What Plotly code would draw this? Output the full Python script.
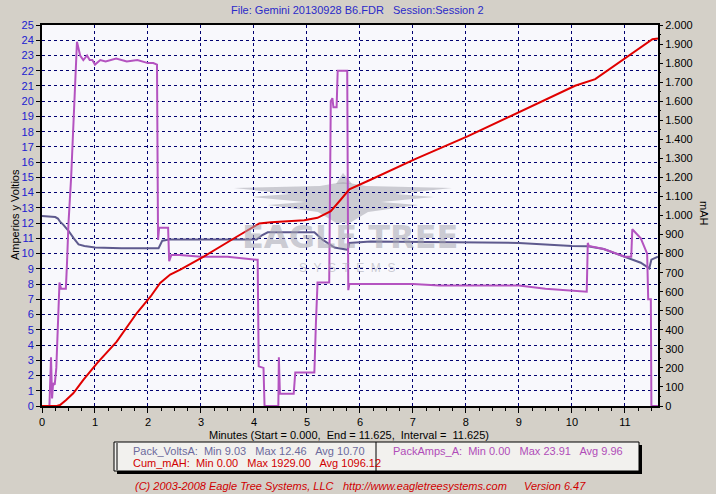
import plotly.graph_objects as go

# ---------------- data ----------------
amps_t = [0, 0.14, 0.17, 0.19, 0.21, 0.24, 0.27, 0.30, 0.33, 0.36, 0.45, 0.47, 0.50, 0.55, 0.60,
          0.66, 0.72, 0.78, 0.85, 0.90, 0.95, 1.00, 1.10, 1.20, 1.40, 1.60, 1.80, 2.00, 2.10,
          2.17, 2.19, 2.21, 2.38, 2.40, 2.44, 2.60, 3.00, 3.50, 4.05, 4.07, 4.09, 4.18, 4.20,
          4.46, 4.47, 4.49, 4.52, 4.75, 4.78, 4.82, 5.14, 5.17, 5.20, 5.25, 5.42, 5.45, 5.48,
          5.50, 5.56, 5.58, 5.76, 5.78, 5.80, 6.00, 6.50, 7.00, 7.50, 8.00, 8.50, 9.00, 9.50,
          10.00, 10.28, 10.30, 10.32, 10.60, 11.00, 11.12, 11.14, 11.30, 11.42, 11.44, 11.49,
          11.50, 11.625]
amps_v = [0, 0, 3.2, 0.5, 1.5, 1.4, 2.5, 5.0, 8.1, 7.7, 7.7, 9.2, 12.0, 15.0, 19.0,
          23.9, 23.0, 22.7, 23.0, 22.7, 22.7, 22.4, 22.7, 22.6, 22.8, 22.6, 22.7, 22.5, 22.5,
          22.4, 10.9, 11.7, 11.7, 9.5, 9.9, 9.9, 9.8, 9.8, 9.6, 9.6, 2.6, 2.5, 0,
          0, 3.2, 0.8, 0.8, 0.8, 2.2, 2.2, 2.2, 5.5, 8.1, 8.1, 8.1, 20.0, 20.2,
          19.6, 19.6, 22.0, 22.0, 7.6, 8.0, 8.0, 8.0, 8.0, 7.9, 7.9, 7.9, 7.9, 7.7,
          7.6, 7.5, 10.7, 10.5, 10.3, 9.8, 9.8, 11.6, 11.0, 10.0, 7.0, 7.0,
          0, 0]

volts_t = [0, 0.25, 0.30, 0.34, 0.40, 0.50, 0.60, 0.69, 0.80, 1.00, 1.50, 2.00, 2.20, 2.27,
           2.40, 3.00, 4.05, 4.15, 4.26, 5.00, 5.14, 5.30, 5.52, 5.77, 5.80, 6.20, 7.00, 8.00,
           9.00, 10.00, 10.30, 10.60, 11.00, 11.30, 11.46, 11.50, 11.625]
volts_v = [12.46, 12.4, 12.3, 12.1, 11.9, 11.5, 11.0, 10.6, 10.5, 10.4, 10.35, 10.35, 10.35, 10.85,
           10.92, 10.92, 10.92, 11.2, 11.4, 11.4, 11.4, 10.9, 10.4, 10.25, 10.7, 10.8, 10.78, 10.75,
           10.7, 10.5, 10.48, 10.3, 9.8, 9.4, 9.03, 9.6, 9.8]

mah_t = [0, 0.28, 0.34, 0.45, 0.59, 0.78, 1.04, 1.41, 1.79, 2.05, 2.23, 2.42, 2.61, 3.06, 3.69,
         4.10, 4.32, 4.95, 5.20, 5.45, 5.64, 5.80, 6.21, 7.03, 8.04, 9.05, 9.81, 10.06, 10.44,
         11.07, 11.52, 11.625]
mah_v = [0, 0, 5, 30, 67, 137, 225, 338, 488, 575, 646, 690, 716, 786, 891,
         958, 965, 975, 988, 1023, 1084, 1137, 1189, 1295, 1417, 1549, 1646, 1681, 1716,
         1839, 1925, 1929]

x_ticks = list(range(0, 12))
left_ticks = list(range(0, 26))
right_ticks = list(range(0, 2001, 100))
right_labels = [(str(v) if v < 1000 else "{:.3f}".format(v / 1000)) for v in right_ticks]

title_text = "File: Gemini 20130928 B6.FDR   Session:Session 2"
xaxis_text = "Minutes (Start = 0.000,  End = 11.625,  Interval =  11.625)"
volts_stats = "Pack_VoltsA:  Min 9.03   Max 12.46   Avg 10.70"
mah_stats = "Cum_mAH:  Min 0.00   Max 1929.00   Avg 1096.12"
amps_stats = "PackAmps_A:  Min 0.00   Max 23.91   Avg 9.96"

# ---------------- layout geometry ----------------
W, H = 716, 494
L, R, T, B = 42, 658, 25, 406


def px(x):
    return (x - L) / (R - L)


def py(y):
    return (B - y) / (B - T)


def path(points):
    s = "M " + " L ".join("{:.5f},{:.5f}".format(px(a), py(b)) for a, b in points) + " Z"
    return s


FONT = "Liberation Sans, Arial, sans-serif"
AMPS_C = "#b453c0"
VOLTS_C = "#5e5a8e"
MAH_C = "#e00000"
WM = "rgba(165,165,175,0.55)"

fig = go.Figure()
fig.add_trace(go.Scatter(x=volts_t, y=volts_v, mode="lines", line=dict(color=VOLTS_C, width=2),
                         name="Pack_VoltsA", yaxis="y"))
fig.add_trace(go.Scatter(x=amps_t, y=amps_v, mode="lines", line=dict(color=AMPS_C, width=2),
                         name="PackAmps_A", yaxis="y"))
fig.add_trace(go.Scatter(x=mah_t, y=mah_v, mode="lines", line=dict(color=MAH_C, width=2),
                         name="Cum_mAH", yaxis="y2"))

# watermark wings (pixel outlines)
left_wing = [(343, 182), (320, 186), (234, 188), (290, 194), (252, 197), (305, 202), (268, 205),
             (318, 212), (338, 224), (343, 222)]
right_wing = [(686 - a, b) for a, b in left_wing]
head = [(336, 184), (343, 173), (352, 184)]

shapes = [
    dict(type="path", xref="paper", yref="paper", path=path(left_wing), fillcolor=WM,
         line=dict(width=0), layer="below"),
    dict(type="path", xref="paper", yref="paper", path=path(right_wing), fillcolor=WM,
         line=dict(width=0), layer="below"),
    dict(type="path", xref="paper", yref="paper", path=path(head), fillcolor=WM,
         line=dict(width=0), layer="below"),
    # legend box shadow + box
    dict(type="rect", xref="paper", yref="paper", x0=px(117), x1=px(642), y0=py(474), y1=py(445),
         fillcolor="black", line=dict(width=0), layer="above"),
    dict(type="rect", xref="paper", yref="paper", x0=px(114), x1=px(639), y0=py(471), y1=py(442),
         fillcolor="#f2f1ee", line=dict(color="black", width=1), layer="above"),
    dict(type="line", xref="paper", yref="paper", x0=px(117), x1=px(117), y0=py(470), y1=py(443),
         line=dict(color="black", width=1), layer="above"),
    dict(type="line", xref="paper", yref="paper", x0=px(376), x1=px(376), y0=py(471), y1=py(442),
         line=dict(color="black", width=1), layer="above"),
]

annotations = [
    dict(text=title_text, x=px(357), y=py(10), xref="paper", yref="paper", showarrow=False,
         font=dict(family=FONT, size=11, color="#2a2ac8"), xanchor="center", yanchor="middle"),
    dict(text=xaxis_text, x=px(349), y=py(435), xref="paper", yref="paper", showarrow=False,
         font=dict(family=FONT, size=11, color="black"), xanchor="center", yanchor="middle"),
    dict(text="Amperios y Voltios", x=px(15), y=py(215), xref="paper", yref="paper", showarrow=False,
         textangle=-90, font=dict(family=FONT, size=11, color="black"), xanchor="center", yanchor="middle"),
    dict(text="mAH", x=px(704), y=py(213), xref="paper", yref="paper", showarrow=False,
         textangle=90, font=dict(family=FONT, size=11, color="black"), xanchor="center", yanchor="middle"),
    dict(text=volts_stats, x=px(131), y=py(451), xref="paper", yref="paper", showarrow=False,
         font=dict(family=FONT, size=11, color="#6c6a9c"), xanchor="left", yanchor="middle"),
    dict(text=mah_stats, x=px(131), y=py(463), xref="paper", yref="paper", showarrow=False,
         font=dict(family=FONT, size=11, color="#d00000"), xanchor="left", yanchor="middle"),
    dict(text=amps_stats, x=px(391), y=py(451), xref="paper", yref="paper", showarrow=False,
         font=dict(family=FONT, size=11, color="#b04cb8"), xanchor="left", yanchor="middle"),
    dict(text="<i>(C) 2003-2008 Eagle Tree Systems, LLC</i>", x=px(133), y=py(486), xref="paper",
         yref="paper", showarrow=False, font=dict(family=FONT, size=11, color="#d00000"),
         xanchor="left", yanchor="middle"),
    dict(text="<i>http://www.eagletreesystems.com</i>", x=px(509), y=py(486), xref="paper",
         yref="paper", showarrow=False, font=dict(family=FONT, size=11, color="#d00000"),
         xanchor="right", yanchor="middle"),
    dict(text="<i>Version 6.47</i>", x=px(522), y=py(486), xref="paper",
         yref="paper", showarrow=False, font=dict(family=FONT, size=11, color="#d00000"),
         xanchor="left", yanchor="middle"),
    # watermark text
    dict(text="<b>EAGLE TREE</b>", x=px(350), y=py(237), xref="paper", yref="paper", showarrow=False,
         font=dict(family="DejaVu Sans, sans-serif", size=32, color=WM),
         xanchor="center", yanchor="middle"),
    dict(text="S  Y  S  T  E  M  S", x=px(347), y=py(268), xref="paper", yref="paper", showarrow=False,
         font=dict(family=FONT, size=12, color=WM),
         xanchor="center", yanchor="middle"),
]

fig.update_layout(
    width=W, height=H,
    margin=dict(l=L, r=W - R, t=T, b=H - B),
    paper_bgcolor="#d4d0c8",
    plot_bgcolor="#f8f8fc",
    showlegend=False,
    font=dict(family=FONT, size=11, color="black"),
    xaxis=dict(range=[0, 11.625], tickvals=x_ticks, showgrid=True, gridcolor="#000070",
               griddash="dot", gridwidth=1, ticks="outside", ticklen=5, tickcolor="black",
               showline=True, linecolor="black", linewidth=2, mirror=True, zeroline=False,
               tickfont=dict(family=FONT, size=11, color="black"),
               minor=dict(dtick=0.25, ticks="outside", ticklen=3, tickcolor="black", showgrid=False)),
    yaxis=dict(range=[0, 25], tickvals=left_ticks, showgrid=True, gridcolor="#000070",
               griddash="dot", gridwidth=1, ticks="outside", ticklen=4, tickcolor="black",
               showline=True, linecolor="black", linewidth=2, mirror=True, zeroline=False,
               tickfont=dict(family=FONT, size=11, color="#2020d0")),
    yaxis2=dict(range=[0, 2000], overlaying="y", side="right", tickvals=right_ticks,
                ticktext=right_labels, showgrid=False, ticks="outside", ticklen=4,
                tickcolor="black", showline=False, zeroline=False,
                tickfont=dict(family=FONT, size=11, color="black"),
                minor=dict(dtick=50, ticks="outside", ticklen=2, tickcolor="black")),
    shapes=shapes,
    annotations=annotations,
)

fig.write_html("out.html", config={"displayModeBar": False},
               post_script="document.body.style.margin='0';")
